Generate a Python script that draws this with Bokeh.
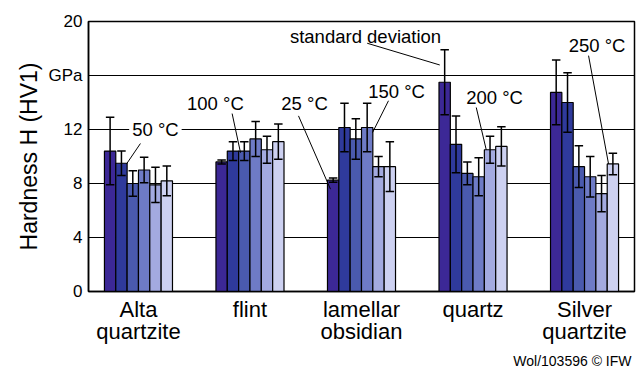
import numpy as np
from bokeh.plotting import figure
from bokeh.models import Range1d, FixedTicker, Label, ColumnDataSource, Title
from bokeh.embed import file_html
from bokeh.resources import INLINE

# ---------------- data ----------------
groups = ["Alta\nquartzite", "flint", "lamellar\nobsidian", "quartz", "Silver\nquartzite"]
temps = ["25 °C", "50 °C", "100 °C", "150 °C", "200 °C", "250 °C"]

alta_quartzite = [10.4, 9.5, 8.0, 9.0, 7.9, 8.2]
alta_quartzite_sd = [2.5, 0.9, 0.95, 0.95, 1.3, 1.1]
flint = [9.6, 10.4, 10.4, 11.3, 10.5, 11.1]
flint_sd = [0.15, 0.7, 0.7, 1.3, 1.0, 1.3]
lamellar_obsidian = [8.25, 12.15, 11.3, 12.15, 9.25, 9.25]
lamellar_obsidian_sd = [0.15, 1.8, 1.5, 1.8, 0.75, 1.85]
quartz = [15.5, 10.9, 8.75, 8.5, 10.5, 10.75]
quartz_sd = [2.4, 2.1, 0.85, 1.4, 1.0, 1.45]
silver_quartzite = [14.75, 14.0, 9.25, 8.5, 7.25, 9.45]
silver_quartzite_sd = [2.4, 2.2, 1.55, 1.5, 1.35, 0.8]

y_ticks = [0, 4, 8, 12, 16, 20]
y_tick_labels = {16: "GPa"}
y_axis_title = "Hardness H (HV1)"
credit = "Wol/103596 © IFW"

values = [alta_quartzite, flint, lamellar_obsidian, quartz, silver_quartzite]
sds = [alta_quartzite_sd, flint_sd, lamellar_obsidian_sd, quartz_sd, silver_quartzite_sd]

# ---------------- style ----------------
colors = ["#3c2896", "#2f3a9c", "#4a5aae", "#6e7bc6", "#a3aae0", "#cdd1f1"]
FONT = "Liberation Sans"
bar_w = 0.1017
cap_half = 0.038

p = figure(width=640, height=371, output_backend="svg", toolbar_location=None,
           x_range=Range1d(-0.448, 4.448), y_range=Range1d(0, 20),
           min_border_left=88, min_border_right=6, min_border_top=21, min_border_bottom=0)
p.background_fill_color = "white"
p.border_fill_color = "white"
p.outline_line_color = "black"
p.outline_line_width = 1.5

# grid
p.xgrid.visible = False
p.ygrid.ticker = FixedTicker(ticks=[4, 8, 12, 16])
p.ygrid.grid_line_color = "black"
p.ygrid.grid_line_width = 1

# axes
p.yaxis.ticker = FixedTicker(ticks=y_ticks)
p.yaxis.major_label_overrides = {k: v for k, v in y_tick_labels.items()}
p.yaxis.axis_label = y_axis_title
p.yaxis.axis_label_text_font = FONT
p.yaxis.axis_label_text_font_size = "23px"
p.yaxis.axis_label_text_font_style = "normal"
p.yaxis.axis_label_text_color = "black"
p.yaxis.axis_label_standoff = 3
p.yaxis.major_label_text_font = FONT
p.yaxis.major_label_text_font_size = "17px"
p.yaxis.major_label_text_color = "black"
p.yaxis.major_label_standoff = 6

p.xaxis.ticker = FixedTicker(ticks=list(range(len(groups))))
p.xaxis.major_label_overrides = {i: g for i, g in enumerate(groups)}
p.xaxis.major_label_text_font = FONT
p.xaxis.major_label_text_font_size = "22px"
p.xaxis.major_label_text_color = "black"
p.xaxis.major_label_text_line_height = 0.9
p.xaxis.major_label_standoff = 5

for ax in (p.xaxis[0], p.yaxis[0]):
    ax.major_tick_in = 0
    ax.major_tick_out = 0
    ax.minor_tick_in = 0
    ax.minor_tick_out = 0
    ax.axis_line_color = "black"
    ax.axis_line_width = 1.5

# credit line below the axis
p.add_layout(Title(text=credit, align="right", text_font=FONT, text_font_size="14px",
                   text_font_style="normal", text_color="black", standoff=0, padding=3), "below")

# bars + error bars
xs, tops, cols, lo, hi = [], [], [], [], []
for g, (vals, sd) in enumerate(zip(values, sds)):
    for i, (v, s) in enumerate(zip(vals, sd)):
        x = g + (i - 2.5) * bar_w
        xs.append(x); tops.append(v); cols.append(colors[i])
        lo.append(v - s); hi.append(v + s)

src = ColumnDataSource(dict(x=xs, top=tops, color=cols, lo=lo, hi=hi,
                            x0=[x - cap_half for x in xs], x1=[x + cap_half for x in xs]))
p.vbar(x="x", top="top", bottom=0, width=bar_w, fill_color="color", line_color="black",
       line_width=1.2, source=src)
p.segment(x0="x", y0="lo", x1="x", y1="hi", line_color="black", line_width=1.5, source=src)
p.segment(x0="x0", y0="hi", x1="x1", y1="hi", line_color="black", line_width=1.5, source=src)
p.segment(x0="x0", y0="lo", x1="x1", y1="lo", line_color="black", line_width=1.5, source=src)

# callouts: (text, text_x, text_y, leader_x, leader_y, group, bar, dx, dy)
callouts = [
    ("50 °C", 0.152, 11.97, 0.033, 11.15, 0, 1, 0.045, -0.06),
    ("100 °C", 0.69, 13.9, 0.840, 13.18, 1, 2, -0.034, -0.12),
    ("25 °C", 1.489, 13.9, 1.435, 13.01, 2, 0, -0.024, -0.67),
    ("150 °C", 2.314, 14.83, 2.242, 14.13, 2, 3, 0.048, -0.38),
    ("200 °C", 3.193, 14.39, 3.029, 13.63, 3, 4, -0.034, 0.0),
    ("250 °C", 4.112, 18.25, 4.036, 17.47, 4, 5, -0.039, 0.0),
    ("standard deviation", 2.036, 18.88, 2.051, 18.39, 3, 0, -0.044, 1.28),
]
lx0, ly0, lx1, ly1 = [], [], [], []
for text, tx, ty, sx, sy, g, b, dx, dy in callouts:
    bx = g + (b - 2.5) * bar_w
    lx0.append(sx); ly0.append(sy)
    lx1.append(bx + dx); ly1.append(values[g][b] + dy)
p.segment(x0=lx0, y0=ly0, x1=lx1, y1=ly1, line_color="black", line_width=1)
for text, tx, ty, *_ in callouts:
    p.add_layout(Label(x=tx, y=ty, text=text, text_align="center", text_baseline="middle",
                       text_font=FONT, text_font_size="18.5px", text_color="black",
                       background_fill_color="white" if text == "50 °C" else None,
                       padding=3))

open("out.html", "w").write(file_html(p, INLINE))
